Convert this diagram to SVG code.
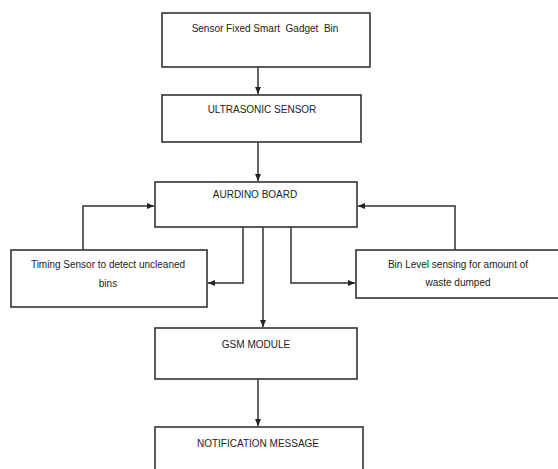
<svg xmlns="http://www.w3.org/2000/svg" width="558" height="469" viewBox="0 0 558 469">
<defs>
<marker id="ah" markerWidth="8" markerHeight="8" refX="7" refY="4" orient="auto" markerUnits="userSpaceOnUse">
<path d="M0,1 L7,4 L0,7 Z" fill="#222"/>
</marker>
<style>
.box{fill:#fff;stroke:#333;stroke-width:1.6}
.ln{fill:none;stroke:#333;stroke-width:1.5}
.t{font-family:"Liberation Sans",Arial,sans-serif;font-size:10px;fill:#222;text-anchor:middle;white-space:pre}
</style>
</defs>
<rect width="558" height="469" fill="#fff"/>
<g id="connectors">
<path class="ln" d="M258,67 V94" marker-end="url(#ah)"/>
<path class="ln" d="M258,142 V181" marker-end="url(#ah)"/>
<path class="ln" d="M83,250 V206 H154" marker-end="url(#ah)"/>
<path class="ln" d="M243,227 V283 H208" marker-end="url(#ah)"/>
<path class="ln" d="M263,227 V327" marker-end="url(#ah)"/>
<path class="ln" d="M291,227 V283 H355" marker-end="url(#ah)"/>
<path class="ln" d="M455,250 V206 H358" marker-end="url(#ah)"/>
<path class="ln" d="M258,379 V426" marker-end="url(#ah)"/>
</g>
<g id="n1"><rect class="box" x="162" y="13" width="208" height="54"/><text class="t" x="265" y="32">Sensor Fixed Smart  Gadget  Bin</text></g>
<g id="n2"><rect class="box" x="162" y="95" width="199" height="47"/><text class="t" x="262" y="113">ULTRASONIC SENSOR</text></g>
<g id="n3"><rect class="box" x="155" y="182" width="202" height="45"/><text class="t" x="255" y="198">AURDINO BOARD</text></g>
<g id="n4"><rect class="box" x="11" y="250" width="196" height="57"/><text class="t" x="108" y="268">Timing Sensor to detect uncleaned</text><text class="t" x="108" y="287">bins</text></g>
<g id="n5"><rect class="box" x="356" y="250" width="205" height="48"/><text class="t" x="458" y="268">Bin Level sensing for amount of</text><text class="t" x="458" y="286">waste dumped</text></g>
<g id="n6"><rect class="box" x="155" y="328" width="202" height="51"/><text class="t" x="256" y="348">GSM MODULE</text></g>
<g id="n7"><rect class="box" x="155" y="427" width="208" height="50"/><text class="t" x="258" y="447">NOTIFICATION MESSAGE</text></g>
</svg>
